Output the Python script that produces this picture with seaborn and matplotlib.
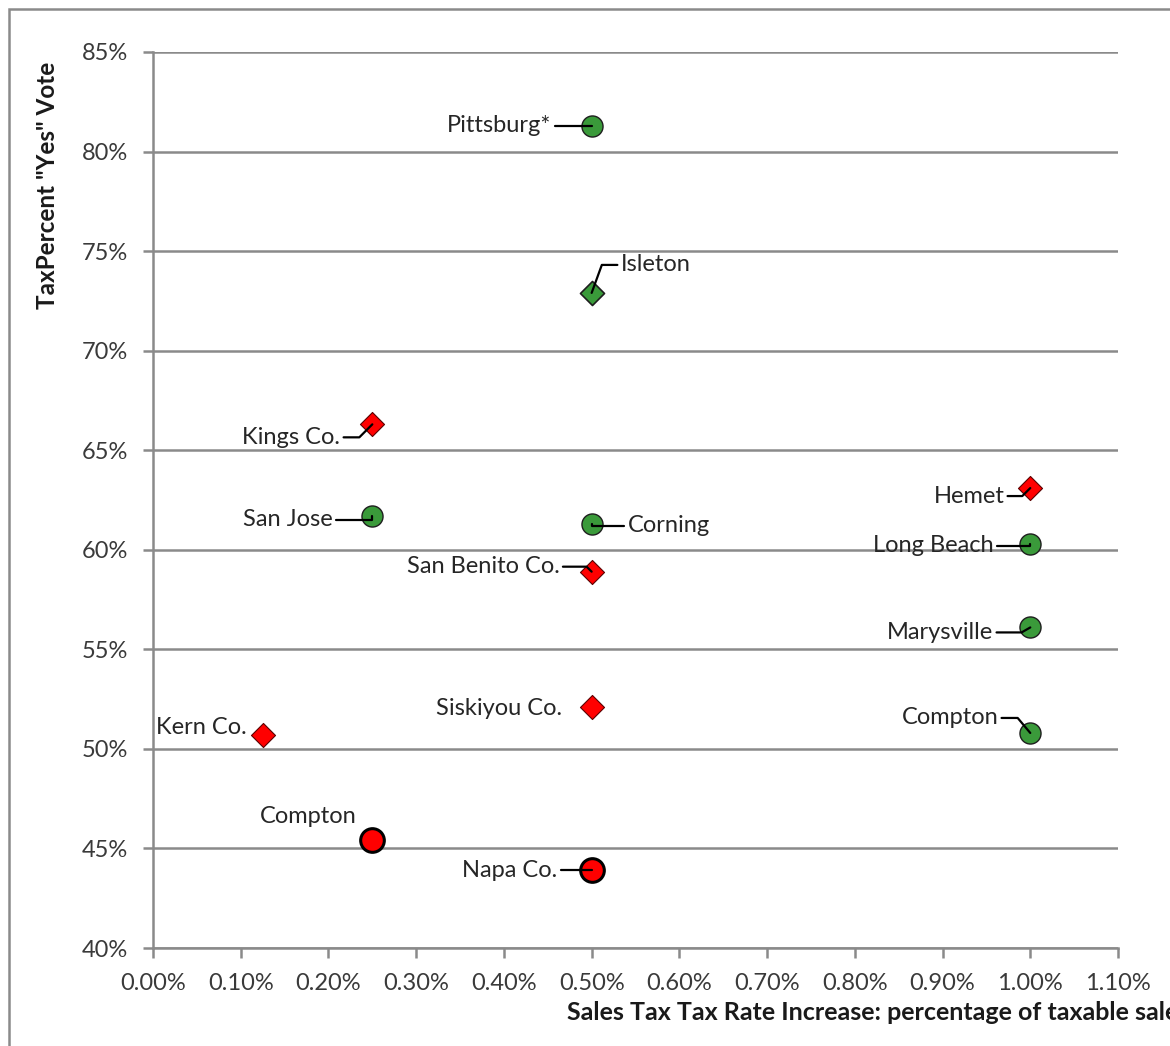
import pandas as pd
import seaborn as sns
import matplotlib.pyplot as plt
from matplotlib.ticker import FuncFormatter, MultipleLocator
from matplotlib.patches import Rectangle

# values
cities = ['Pittsburg*', 'Isleton', 'Kings Co.', 'Hemet', 'San Jose', 'Corning',
          'Long Beach', 'San Benito Co.', 'Marysville', 'Siskiyou Co.', 'Kern Co.',
          'Compton', 'Compton', 'Napa Co.']
rate_increase = [0.50, 0.50, 0.25, 1.00, 0.25, 0.50, 1.00, 0.50, 1.00, 0.50, 0.125,
                 1.00, 0.25, 0.50]
yes_vote = [81.3, 72.9, 66.3, 63.1, 61.7, 61.3, 60.3, 58.9, 56.1, 52.1, 50.7,
            50.8, 45.4, 43.9]
kind = ['green_circle', 'green_diamond', 'red_diamond', 'red_diamond', 'green_circle',
        'green_circle', 'green_circle', 'red_diamond', 'green_circle', 'red_diamond',
        'red_diamond', 'green_circle', 'red_circle', 'red_circle']

df = pd.DataFrame({'city': cities, 'rate': rate_increase, 'vote': yes_vote, 'kind': kind})

# label placement (pixel offsets, ha, leader line angle or None)
label_pos = [(-40, 0, 'right', 90), (29, 28, 'left', 70), (-32, -13, 'right', 45),
             (-26, -8, 'right', 45), (-40, -4, 'right', 90), (36, -2, 'left', 90),
             (-37, -2, 'right', 90), (-32, 5, 'right', -45), (-37, -5, 'right', 30),
             (-30, -1, 'right', None), (-16, 7, 'right', None), (-32, 15, 'right', -50),
             (-64, 24, 'center', None), (-34, 0, 'right', 90)]

sns.set_style('white')
plt.rcParams['font.family'] = ['Lato', 'DejaVu Sans']

fig = plt.figure(figsize=(11.7, 10.46), dpi=100)
ax = fig.add_axes([153 / 1170, 1 - 948 / 1046, (1118 - 153) / 1170, (948 - 52) / 1046])

green = '#3a9a3a'
red = '#ff0000'
styles = {
    'green_circle': dict(marker='o', s=230, color=green, edgecolor='#1e1e1e', linewidth=1.0),
    'green_diamond': dict(marker='D', s=150, color=green, edgecolor='#1e1e1e', linewidth=1.2),
    'red_diamond': dict(marker='D', s=150, color=red, edgecolor='#5a0000', linewidth=0.8),
    'red_circle': dict(marker='o', s=290, color=red, edgecolor='black', linewidth=2.2),
}
for k, st in styles.items():
    sns.scatterplot(data=df[df['kind'] == k], x='rate', y='vote', ax=ax, zorder=3,
                    legend=False, **st)

for i, row in df.iterrows():
    dx, dy, ha, ang = label_pos[i]
    arrow = None
    if ang is not None:
        arrow = dict(arrowstyle='-', color='black', lw=1.6, shrinkA=0, shrinkB=0,
                     connectionstyle=f'angle,angleA=0,angleB={ang},rad=0')
    ax.annotate(row['city'], (row['rate'], row['vote']), xytext=(dx, dy),
                textcoords='offset pixels', ha=ha, va='center', fontsize=17,
                color='#262626', arrowprops=arrow, zorder=4)

ax.set_xlim(0, 1.1)
ax.set_ylim(40, 85)
ax.xaxis.set_major_locator(MultipleLocator(0.1))
ax.yaxis.set_major_locator(MultipleLocator(5))
ax.xaxis.set_major_formatter(FuncFormatter(lambda v, p: f'{v:.2f}%'))
ax.yaxis.set_major_formatter(FuncFormatter(lambda v, p: f'{v:.0f}%'))
ax.grid(axis='y', color='#8a8a8a', lw=1.8)
ax.grid(axis='x', visible=False)
ax.set_axisbelow(True)
for side in ['top', 'right']:
    ax.spines[side].set_visible(False)
for side in ['left', 'bottom']:
    ax.spines[side].set_color('#8a8a8a')
    ax.spines[side].set_linewidth(1.8)
ax.tick_params(axis='both', direction='out', length=7, width=1.8, color='#8a8a8a',
               labelsize=17, labelcolor='#3a3a3a', pad=11, left=True, bottom=True)
ax.set_xlabel('')
ax.set_ylabel('')

fig.text(48 / 1170, 1 - 185 / 1046, 'TaxPercent "Yes" Vote', rotation=90, ha='center',
         va='center', fontsize=17.5, fontweight='bold', color='#1a1a1a')
fig.text(567 / 1170, 1 - 1013 / 1046, 'Sales Tax Tax Rate Increase: percentage of taxable sales',
         ha='left', va='center', fontsize=18, fontweight='bold', color='#1a1a1a')

fig.patches.append(Rectangle((9 / 1170, -0.1), 1.2, 1 - 9 / 1046 + 0.1, transform=fig.transFigure,
                             fill=False, edgecolor='#8a8a8a', lw=1.8))

fig.savefig('out.png', dpi=100)
